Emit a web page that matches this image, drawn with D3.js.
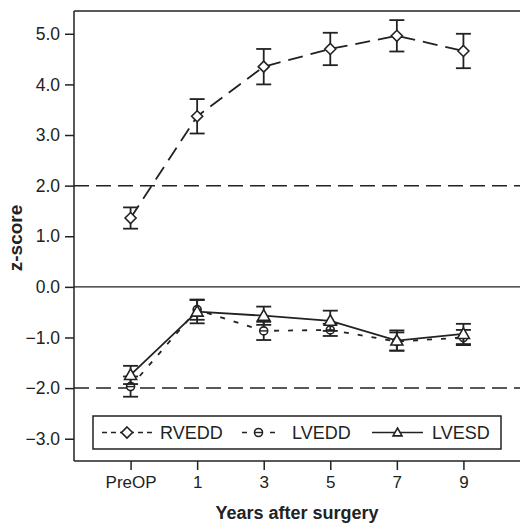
<!DOCTYPE html>
<html>
<head>
<meta charset="utf-8">
<script src="https://cdn.jsdelivr.net/npm/d3@7"></script>
<style>
  body { margin: 0; background: #fff; }
  svg { display: block; font-family: "Liberation Sans", Arial, sans-serif; }
</style>
</head>
<body>
<div id="chart"></div>
<script>
// data
const categories = ["PreOP", "1", "3", "5", "7", "9"];
const yTicks = [-3, -2, -1, 0, 1, 2, 3, 4, 5];

const rveddMean = [1.36, 3.37, 4.35, 4.70, 4.96, 4.66];
const rveddErr = [0.21, 0.34, 0.35, 0.32, 0.31, 0.34];
const lveddMean = [-1.97, -0.45, -0.87, -0.85, -1.08, -1.0];
const lveddErr = [0.2, 0.2, 0.18, 0.12, 0.18, 0.15];
const lvesdMean = [-1.74, -0.49, -0.57, -0.67, -1.06, -0.93];
const lvesdErr = [0.18, 0.23, 0.18, 0.2, 0.2, 0.2];

const refLines = [2, -2];

const width = 520;
const height = 525;
const marginTop = 11;
const marginRight = 0;
const marginBottom = 64;
const marginLeft = 74;

const svg = d3.select("#chart")
    .append("svg")
    .attr("width", width)
    .attr("height", height);

const x = d3.scalePoint()
    .domain(categories)
    .range([marginLeft, width - marginRight])
    .padding(0.85);

const y = d3.scaleLinear()
    .domain([-3.44, 5.45])
    .range([height - marginBottom, marginTop]);

const fmt = (d) => (d < 0 ? "\u2212" : "") + Math.abs(d).toFixed(1);

// top border
svg.append("line")
    .attr("x1", marginLeft).attr("x2", width)
    .attr("y1", marginTop).attr("y2", marginTop)
    .attr("stroke", "#222").attr("stroke-width", 1.5);

// reference lines
svg.append("line")
    .attr("x1", marginLeft).attr("x2", width)
    .attr("y1", y(0)).attr("y2", y(0))
    .attr("stroke", "#222").attr("stroke-width", 1.3);

svg.selectAll(".ref")
    .data(refLines)
    .enter()
    .append("line")
    .attr("class", "ref")
    .attr("x1", marginLeft).attr("x2", width)
    .attr("y1", (d) => y(d)).attr("y2", (d) => y(d))
    .attr("stroke", "#222").attr("stroke-width", 1.5)
    .attr("stroke-dasharray", "15,7");

// axes
svg.append("g")
    .attr("transform", `translate(${marginLeft},0)`)
    .call(d3.axisLeft(y).tickValues(yTicks).tickFormat(fmt).tickSize(9).tickPadding(5))
    .call((g) => g.selectAll("line, path").attr("stroke", "#222").attr("stroke-width", 1.5))
    .call((g) => g.select(".domain").attr("d", `M0,${marginTop}V${height - marginBottom}`))
    .call((g) => g.selectAll("text").attr("font-size", 17.5).attr("fill", "#222")
        .attr("font-family", "Liberation Sans, Arial, sans-serif"));

svg.append("g")
    .attr("transform", `translate(0,${height - marginBottom})`)
    .call(d3.axisBottom(x).tickSize(9).tickPadding(6))
    .call((g) => g.selectAll("line, path").attr("stroke", "#222").attr("stroke-width", 1.5))
    .call((g) => g.select(".domain").attr("d", `M${marginLeft},0H${width}`))
    .call((g) => g.selectAll("text").attr("font-size", 17).attr("fill", "#222")
        .attr("font-family", "Liberation Sans, Arial, sans-serif"));

// axis titles
svg.append("text")
    .attr("x", (marginLeft + width) / 2)
    .attr("y", 519)
    .attr("text-anchor", "middle")
    .attr("font-size", 18)
    .attr("font-weight", "bold")
    .attr("fill", "#222")
    .text("Years after surgery");

svg.append("text")
    .attr("transform", `translate(22,${(marginTop + height - marginBottom) / 2 + 2}) rotate(-90)`)
    .attr("text-anchor", "middle")
    .attr("font-size", 19)
    .attr("font-weight", "bold")
    .attr("fill", "#222")
    .text("z-score");

// series
const series = [
    { name: "RVEDD", mean: rveddMean, err: rveddErr, dash: "15,8", marker: "diamond" },
    { name: "LVEDD", mean: lveddMean, err: lveddErr, dash: "5,9", marker: "circle" },
    { name: "LVESD", mean: lvesdMean, err: lvesdErr, dash: null, marker: "triangle" },
];

const line = d3.line()
    .x((d, i) => x(categories[i]))
    .y((d) => y(d));

function drawMarker(g, type, s) {
    const k = s || 1;
    if (type === "diamond") {
        g.append("path")
            .attr("d", `M0,${-5.5 * k}L${5.5 * k},0L0,${5.5 * k}L${-5.5 * k},0Z`)
            .attr("fill", "#fff").attr("stroke", "#222").attr("stroke-width", 1.6);
    } else if (type === "circle") {
        g.append("circle")
            .attr("r", 4 * k)
            .attr("fill", "#fff").attr("stroke", "#222").attr("stroke-width", 1.6);
        g.append("line")
            .attr("x1", -4 * k).attr("x2", 4 * k)
            .attr("stroke", "#222").attr("stroke-width", 1.4);
    } else {
        g.append("path")
            .attr("d", `M0,${-6 * k}L${6 * k},${4.5 * k}L${-6 * k},${4.5 * k}Z`)
            .attr("fill", "#fff").attr("stroke", "#222").attr("stroke-width", 1.6);
    }
}

for (const s of series) {
    const g = svg.append("g");

    g.append("path")
        .datum(s.mean)
        .attr("d", line)
        .attr("fill", "none")
        .attr("stroke", "#222")
        .attr("stroke-width", 1.8)
        .attr("stroke-dasharray", s.dash);

    // error bars
    const eb = g.selectAll(".eb")
        .data(s.mean.map((m, i) => ({ cat: categories[i], m: m, e: s.err[i] })))
        .enter()
        .append("g")
        .attr("transform", (d) => `translate(${x(d.cat)},0)`)
        .attr("stroke", "#222")
        .attr("stroke-width", 1.8);

    eb.append("line")
        .attr("y1", (d) => y(d.m + d.e)).attr("y2", (d) => y(d.m - d.e));
    eb.append("line")
        .attr("x1", -7.5).attr("x2", 7.5)
        .attr("y1", (d) => y(d.m + d.e)).attr("y2", (d) => y(d.m + d.e));
    eb.append("line")
        .attr("x1", -7.5).attr("x2", 7.5)
        .attr("y1", (d) => y(d.m - d.e)).attr("y2", (d) => y(d.m - d.e));

    s.mean.forEach((m, i) => {
        const mg = g.append("g").attr("transform", `translate(${x(categories[i])},${y(m)})`);
        drawMarker(mg, s.marker);
    });
}

// legend
const legend = svg.append("g");
legend.append("rect")
    .attr("x", 93).attr("y", 416)
    .attr("width", 408).attr("height", 33)
    .attr("fill", "#fff")
    .attr("stroke", "#222").attr("stroke-width", 1.5);

const legendItems = [
    { s: series[0], x0: 102, x1: 152, tx: 160, dash: "5,4" },
    { s: series[1], x0: 242, x1: 275, tx: 292, dash: "5,23" },
    { s: series[2], x0: 372, x1: 423, tx: 432, dash: null },
];

for (const item of legendItems) {
    const ly = 432.5;
    legend.append("line")
        .attr("x1", item.x0).attr("x2", item.x1)
        .attr("y1", ly).attr("y2", ly)
        .attr("stroke", "#222").attr("stroke-width", 1.6)
        .attr("stroke-dasharray", item.dash);
    const mg = legend.append("g").attr("transform", `translate(${(item.x0 + item.x1) / 2},${ly})`);
    drawMarker(mg, item.s.marker, item.s.marker === "triangle" ? 0.75 : 1);
    legend.append("text")
        .attr("x", item.tx)
        .attr("y", ly)
        .attr("dy", "0.36em")
        .attr("font-size", 18)
        .attr("fill", "#222")
        .text(item.s.name);
}
</script>
</body>
</html>
